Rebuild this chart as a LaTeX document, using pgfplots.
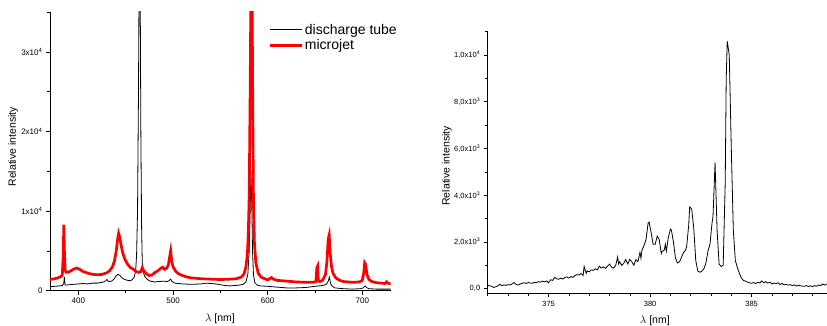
\documentclass[border=0pt]{standalone}
\usepackage{pgfplots}
\pgfplotsset{compat=1.18}
\usepackage{fontspec}
\setmainfont{Liberation Sans}
\begin{document}
\begin{tikzpicture}
\path[use as bounding box] (0pt,0pt) rectangle (827pt,326pt);
\pgfplotsset{
  common/.style={
    scale only axis,
    axis x line*=bottom, axis y line*=left,
    axis line style={-, line width=0.8pt},
    tick style={line width=0.6pt, black},
    tick align=outside,
    major tick length=4pt, minor tick length=2.5pt,
    /pgf/number format/assume math mode=true,
    label style={font=\fontsize{10.5}{12}\selectfont},
  }
}
\begin{axis}[common,
  at={(50pt,35.3pt)}, anchor=south west,
  width=340.7pt, height=278.7pt,
  xmin=370, xmax=730, ymin=0, ymax=35000,
  xtick={400,500,600,700}, minor xtick={450,550,650},
  ytick={0,10000,20000,30000}, minor ytick={5000,15000,25000,35000},
  yticklabels={0,1x10\textsuperscript{4},2x10\textsuperscript{4},3x10\textsuperscript{4}},
  scaled y ticks=false,
  tick label style={font=\fontsize{8}{9}\selectfont},
  xlabel={$\lambda$ [nm]}, ylabel={Relative intensity},
  xlabel style={at={(axis description cs:0.499,-0.099)}, anchor=center},
  ylabel style={at={(axis description cs:-0.108,0.516)}, anchor=center},
  legend style={at={(axis description cs:0.64,0.965)}, anchor=north west, draw=none, fill=none,
    font=\fontsize{14}{17}\selectfont, cells={anchor=west}, inner sep=0pt, row sep=0pt},
  legend image code/.code={\draw[#1] (0pt,0pt) -- (32pt,0pt);},
]
\addplot[black, line width=0.8pt] coordinates {
(370,500) (375,550) (380,600) (383,650) (384.5,900) (385.2,1700) (386,700) (390,750) (395,800)
(400,850) (405,900) (410,850) (415,950) (420,950) (425,1050) (428,1150) (430,1400) (432,1150)
(435,1200) (438,1500) (440,1900) (442,2050) (444,1900) (446,1600) (449,1400) (452,1300) (455,1250)
(457,1400) (459,1700) (460.5,2500) (461.5,4500) (462.5,10000) (463.5,25000) (464.2,40000)
(465.2,40000) (466,20000) (466.8,8000) (467.5,3500) (468.5,2400) (470,1800) (473,1400) (476,1200)
(480,1100) (485,1150) (490,1200) (494,1150) (496,1300) (497.5,1450) (499,1150) (502,950) (506,900)
(510,850) (520,800) (530,850) (535,950) (540,900) (545,850) (550,750) (555,650) (560,600) (565,650)
(570,700) (574,800) (577,1100) (579,2000) (580.5,5000) (581.5,10000) (582.3,15000) (583.2,11000)
(584,5000) (585,2000) (586.5,1000) (589,700) (592,600) (600,550) (605,500) (610,450) (615,400)
(620,350) (630,350) (640,400) (650,550) (658,650) (662,800) (664,1200) (665.2,1700) (666.5,900)
(668,600) (671,350) (680,250) (690,200) (698,250) (701,350) (703,600) (704.5,400) (707,250)
(715,200) (730,200)
};
\addlegendentry{discharge tube}
\addplot[red, line width=2.7pt] coordinates {
(370,1400) (372,1450) (375,1500) (378,1600) (380,1700) (382,1800) (383,2000) (384,4500) (384.6,8300)
(385.2,5000) (386,2600) (387,2300) (389,2300) (392,2500) (395,2700) (398,2850) (401,2700) (405,2400)
(410,2200) (415,2050) (420,2000) (425,2050) (430,2250) (433,2500) (436,3000) (438,3700) (440,5000)
(441.5,6500) (442.5,7200) (443.5,6800) (445,5800) (447,4700) (449,4000) (452,3300) (455,2900)
(458,2700) (461,2400) (464,2300) (466,2400) (467.5,2900) (469,2500) (472,2100) (475,1900) (478,2000)
(481,2300) (484,2500) (487,2800) (489,2950) (491,2700) (493,2800) (495,3200) (496.5,4300) (497.5,5000)
(498.5,3800) (500,3000) (503,2400) (506,2100) (510,1900) (515,1700) (520,1600) (530,1500) (540,1450)
(550,1400) (560,1450) (567,1500) (572,1700) (575,2100) (577,3000) (578.5,4500) (579.5,7000)
(580.5,12000) (581.5,25000) (582.3,38000) (583.5,38000) (584.3,22000) (585,11000) (586,6000)
(587.5,3500) (590,2200) (593,1700) (597,1500) (600,1350) (602,1500) (604,1650) (606,1450) (610,1300)
(620,1200) (630,1100) (640,1050) (648,1050) (651,1150) (652,2900) (652.8,3100) (653.5,1300) (655,1150)
(658,1300) (661,2000) (662.5,3500) (664,6500) (665,7000) (666,4800) (667.5,3000) (669,2200) (672,1600)
(676,1300) (680,1150) (690,1050) (697,1100) (700,1300) (701.5,2200) (702.5,3500) (703.5,3300)
(705,2000) (707,1400) (710,1150) (715,1000) (720,950) (724,900) (725.5,1100) (727,950) (730,850)
};
\addlegendentry{microjet}
\end{axis}

\begin{axis}[common,
  at={(487.7pt,32.7pt)}, anchor=south west,
  width=339pt, height=261.6pt,
  xmin=372, xmax=388.7, ymin=-200, ymax=11000,
  xtick={375,380,385}, minor xtick={372,373,374,376,377,378,379,381,382,383,384,386,387,388},
  ytick={0,2000,4000,6000,8000,10000}, minor ytick={1000,3000,5000,7000,9000,11000},
  yticklabels={{0,0},{2,0x10\textsuperscript{3}},{4,0x10\textsuperscript{3}},{6,0x10\textsuperscript{3}},{8,0x10\textsuperscript{3}},{1,0x10\textsuperscript{4}}},
  scaled y ticks=false,
  tick label style={font=\fontsize{7.5}{9}\selectfont},
  xlabel={$\lambda$ [nm]}, ylabel={Relative intensity},
  xlabel style={at={(axis description cs:0.493,-0.105)}, anchor=center},
  ylabel style={at={(axis description cs:-0.12,0.487)}, anchor=center},
]
\addplot[black, line width=0.8pt] coordinates {
(372.0,150) (372.1,120) (372.2,100) (372.3,50) (372.4,80) (372.5,120) (372.6,180) (372.7,130)
(372.8,160) (372.9,140) (373.0,170) (373.1,160) (373.2,200) (373.3,260) (373.4,180) (373.5,150)
(373.6,200) (373.7,230) (373.8,250) (373.9,220) (374.0,260) (374.1,240) (374.2,230) (374.3,270)
(374.4,250) (374.5,300) (374.6,280) (374.7,320) (374.8,290) (374.9,330) (375.0,250) (375.1,380)
(375.2,350) (375.3,480) (375.4,420) (375.5,400) (375.6,450) (375.7,410) (375.8,480) (375.9,500)
(376.0,450) (376.1,520) (376.2,480) (376.3,560) (376.4,600) (376.5,580) (376.6,650) (376.7,560)
(376.75,950) (376.85,650) (376.9,760) (377.0,720) (377.1,800) (377.2,780) (377.3,850) (377.4,800)
(377.5,960) (377.6,880) (377.7,930) (377.8,870) (377.9,960) (378.0,1050) (378.1,920) (378.2,880)
(378.3,980) (378.4,1350) (378.45,1050) (378.5,1150) (378.6,1000) (378.7,1080) (378.8,1250)
(378.9,1050) (379.0,1250) (379.1,1150) (379.2,1000) (379.3,1250) (379.4,1150) (379.5,1550)
(379.55,1300) (379.6,1650) (379.7,1850) (379.8,2100) (379.9,2800) (379.95,2850) (380.05,2400)
(380.15,1900) (380.25,1900) (380.35,2250) (380.45,2100) (380.55,1500) (380.6,1600) (380.7,1650)
(380.75,1900) (380.8,1600) (380.9,2200) (381.0,2550) (381.05,2500) (381.15,2000) (381.25,1300)
(381.35,1100) (381.45,1150) (381.55,1350) (381.65,1550) (381.75,1650) (381.8,1800) (381.9,2700)
(381.95,3500) (382.05,3400) (382.15,2600) (382.25,1200) (382.35,750) (382.45,700) (382.55,750)
(382.65,850) (382.75,1100) (382.85,1600) (382.95,1900) (383.05,2800) (383.1,3100) (383.2,5400)
(383.3,2500) (383.4,1050) (383.5,950) (383.6,1000) (383.7,4500) (383.75,9000) (383.8,10600)
(383.9,10000) (384.0,6000) (384.1,2500) (384.2,1200) (384.3,900) (384.4,650) (384.5,450)
(384.6,350) (384.7,320) (384.8,280) (384.9,250) (385.0,230) (385.1,260) (385.2,220) (385.3,270)
(385.4,240) (385.5,330) (385.6,250) (385.7,300) (385.8,230) (385.9,280) (386.0,200) (386.1,240)
(386.2,210) (386.3,250) (386.4,180) (386.5,220) (386.6,160) (386.7,190) (386.8,150) (386.9,170)
(387.0,130) (387.1,160) (387.2,110) (387.3,140) (387.4,120) (387.5,110) (387.6,100) (387.7,130)
(387.8,90) (387.9,120) (388.0,80) (388.1,130) (388.2,100) (388.3,150) (388.4,130) (388.5,200)
(388.6,150) (388.7,200)
};
\end{axis}
\end{tikzpicture}
\end{document}
